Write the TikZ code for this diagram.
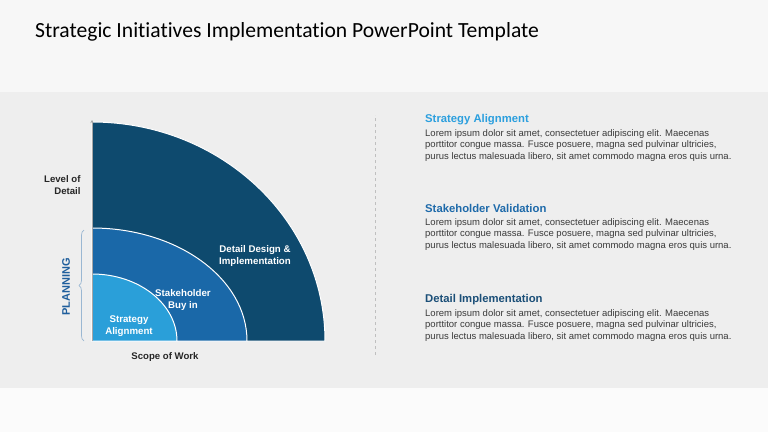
\documentclass[tikz,border=0pt]{standalone}
\usepackage{fontspec}
\setmainfont{Liberation Sans}
\newfontfamily\titlefont[Ligatures={NoCommon}]{Carlito}
\usetikzlibrary{decorations.pathreplacing,arrows.meta}
\definecolor{cinner}{HTML}{2A9FD9}
\definecolor{cmid}{HTML}{1A68A8}
\definecolor{couter}{HTML}{0E4A6E}
\definecolor{hone}{HTML}{2B9FDE}
\definecolor{htwo}{HTML}{1E6AAA}
\definecolor{hthree}{HTML}{1B4F78}
\definecolor{bodytxt}{HTML}{3A3A3A}
\definecolor{bandgray}{HTML}{EEEEEE}
\definecolor{topgray}{HTML}{F7F7F7}
\definecolor{botgray}{HTML}{FBFBFB}
\definecolor{planblue}{HTML}{1F5E9C}
\tikzset{
  quad/.style={draw=white, line width=1pt},
  arclabel/.style={text=white, font=\bfseries\fontsize{9.7}{11.5}\selectfont, align=center},
  axislabel/.style={text=black!85, font=\bfseries\fontsize{9.6}{11.5}\selectfont},
  head/.style={anchor=west, font=\bfseries\fontsize{11.3}{13}\selectfont},
  body/.style={anchor=north west, text=bodytxt, align=left, font=\fontsize{9.5}{11.6}\selectfont, inner sep=0pt}
}
\begin{document}
\begin{tikzpicture}[x=1pt,y=1pt]
\useasboundingbox (0,0) rectangle (768,432);
% background
\fill[topgray] (0,340) rectangle (768,432);
\fill[botgray] (0,0) rectangle (768,44);
\fill[bandgray] (0,44) rectangle (768,340);
% title
\node[anchor=west, inner sep=0pt, font=\titlefont\fontsize{21.6}{26}\selectfont] (title) at (35,400) {Strategic Initiatives Implementation PowerPoint Template};
% quarter shapes
\fill[couter, quad] (92,91) -- (325,91) arc[start angle=0, end angle=90, x radius=233, y radius=219] -- cycle;
\fill[cmid, quad] (92,91) -- (247,91) arc[start angle=0, end angle=90, x radius=155, y radius=113] -- cycle;
\fill[cinner, quad] (92,91) -- (177,91) arc[start angle=0, end angle=90, x radius=85, y radius=67] -- cycle;
% axis
\coordinate (ax0) at (92,91);
\coordinate (ax1) at (92,312);
\draw[gray!70, line width=0.8pt, -{Stealth[length=3pt,width=3pt]}] (ax0) -- (ax1);
% arc labels
\node[arclabel] (ddi) at (255,176) {Detail Design \&\\Implementation};
\node[arclabel] (sbi) at (183,132) {Stakeholder\\Buy in};
\node[arclabel] (sal) at (129,106) {Strategy\\Alignment};
% axis labels
\node[axislabel, align=right, anchor=east] (lod) at (84,247) {Level of\\Detail};
\node[axislabel] (sow) at (165,75) {Scope of Work};
% brace
\coordinate (b0) at (84,91);
\coordinate (b1) at (84,202);
\draw[decorate, decoration={brace, amplitude=5pt}, draw=planblue!45, line width=0.7pt] (b0) -- (b1);
\node[rotate=90, text=planblue, font=\bfseries\fontsize{11}{13}\selectfont] (plan) at (66,145) {PLANNING};
% divider
\coordinate (d0) at (375,77);
\coordinate (d1) at (375,317);
\draw[gray!50, dashed, line width=0.5pt] (d0) -- (d1);
% right column
\node[head, text=hone, inner sep=0pt] (h1) at (425,312.5) {Strategy Alignment};
\node[body] (t1) at (425,303) {Lorem ipsum dolor sit amet, consectetuer adipiscing elit. Maecenas\\porttitor congue massa. Fusce posuere, magna sed pulvinar ultricies,\\purus lectus malesuada libero, sit amet commodo magna eros quis urna.};
\node[head, text=htwo, inner sep=0pt] (h2) at (425,224) {Stakeholder Validation};
\node[body] (t2) at (425,214) {Lorem ipsum dolor sit amet, consectetuer adipiscing elit. Maecenas\\porttitor congue massa. Fusce posuere, magna sed pulvinar ultricies,\\purus lectus malesuada libero, sit amet commodo magna eros quis urna.};
\node[head, text=hthree, inner sep=0pt] (h3) at (425,132.5) {Detail Implementation};
\node[body] (t3) at (425,123) {Lorem ipsum dolor sit amet, consectetuer adipiscing elit. Maecenas\\porttitor congue massa. Fusce posuere, magna sed pulvinar ultricies,\\purus lectus malesuada libero, sit amet commodo magna eros quis urna.};
\end{tikzpicture}
\end{document}
